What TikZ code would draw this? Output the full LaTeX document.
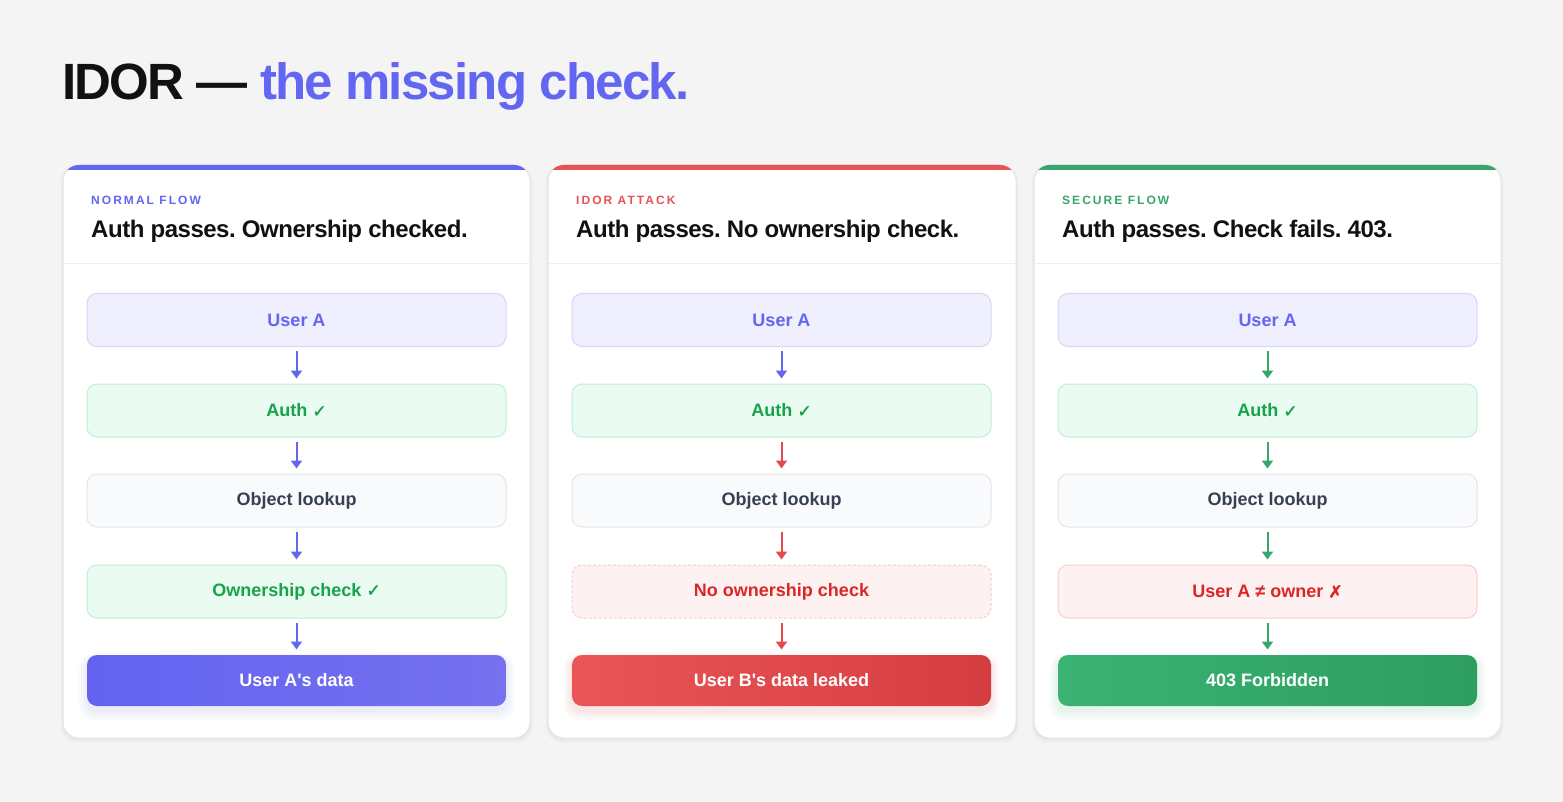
\documentclass[tikz,border=0pt]{standalone}
\usepackage{fontspec}
\setmainfont{Liberation Sans}
\newfontfamily\titlefont[LetterSpace=-3.5]{Liberation Sans}
\newfontfamily\capfont[LetterSpace=17]{Liberation Sans}
\newfontfamily\headfont[LetterSpace=-2]{Liberation Sans}
\newfontfamily\symfont[FakeBold=1.5]{DejaVu Sans}
\usetikzlibrary{arrows.meta}
\frenchspacing
\definecolor{bg}{HTML}{F4F4F4}
\definecolor{ink}{HTML}{111111}
\definecolor{indigo}{HTML}{6366F1}
\definecolor{redc}{HTML}{E5484D}
\definecolor{greenc}{HTML}{34A86A}
\definecolor{redbar}{HTML}{E55353}
\definecolor{greenbar}{HTML}{38A66C}
\definecolor{userfill}{HTML}{EFEFFE}
\definecolor{userdraw}{HTML}{D6D6F8}
\definecolor{okfill}{HTML}{EAFBF2}
\definecolor{okdraw}{HTML}{BFF0D2}
\definecolor{oktext}{HTML}{17A34A}
\definecolor{grayfill}{HTML}{F9FAFB}
\definecolor{graydraw}{HTML}{E3E5E8}
\definecolor{graytext}{HTML}{374151}
\definecolor{failfill}{HTML}{FEF1F2}
\definecolor{faildraw}{HTML}{FCCACC}
\definecolor{failtext}{HTML}{DC2626}
\definecolor{carddraw}{HTML}{E6E6E6}
\definecolor{divcol}{HTML}{EFEFEF}
\definecolor{indigoA}{HTML}{6363F0}
\definecolor{indigoB}{HTML}{7571EF}
\definecolor{redA}{HTML}{EA5557}
\definecolor{redB}{HTML}{D53E41}
\definecolor{greenA}{HTML}{3AB274}
\definecolor{greenB}{HTML}{2E9E5F}
\tikzset{
  boxbase/.style={rounded corners=10pt, minimum width=419pt, minimum height=53pt, line width=1pt,
    font=\fontsize{18}{20}\selectfont\bfseries, inner sep=0pt},
  userbox/.style={boxbase, fill=userfill, draw=userdraw, text=indigo},
  authbox/.style={boxbase, fill=okfill, draw=okdraw, text=oktext},
  lookbox/.style={boxbase, fill=grayfill, draw=graydraw, text=graytext},
  failbox/.style={boxbase, fill=failfill, draw=faildraw, text=failtext},
  dashbox/.style={failbox, dash pattern=on 3pt off 2pt},
  resultbox/.style={boxbase, minimum height=51pt, draw=none, text=white},
  flow/.style={line width=2pt, draw=#1, -{Triangle[width=11pt,length=8pt]}, shorten <=4pt, shorten >=5pt},
  caplabel/.style={anchor=base west, inner sep=0pt, font=\fontsize{12}{14}\selectfont\capfont\bfseries},
  heading/.style={anchor=base west, inner sep=0pt, text=ink, font=\fontsize{24}{28}\selectfont\headfont\bfseries},
}
\newcommand\ok{{\symfont\fontsize{17}{18}\selectfont ✓}}
\newcommand\nok{{\symfont\fontsize{17}{18}\selectfont ✗}}
\newcommand\cardbg[6]{%
  \foreach \k in {1,...,5}{\fill[black,opacity=0.012,rounded corners=16pt] (#1-\k/2,165-\k/3+2) rectangle (#2+\k/2,738+\k);}
  \fill[white,rounded corners=16pt] (#1,165) rectangle (#2,738);
  \draw[carddraw,line width=1pt,rounded corners=16pt] (#1,165) rectangle (#2,738);
  \begin{scope}
    \clip[rounded corners=16pt] (#1,165) rectangle (#2,738);
    \fill[#3] (#1,164) rectangle (#2,170);
  \end{scope}
  \draw[divcol,line width=1pt] (#1,264) -- (#2,264);
  \node[caplabel,text=#3] (#6lab) at (#1+28,205) {#4};
  \node[heading] (#6head) at (#1+28,238) {#5};
}
\newcommand\glow[3]{% left x, right x, colour
  \foreach \k in {1,...,6}{\fill[#3,opacity=0.02,rounded corners=10pt+\k pt] (#1-\k*1.4,655-\k*1.0+4) rectangle (#2+\k*1.4,706+\k*1.8+4);}
}
\begin{document}
\begin{tikzpicture}[x=1pt,y=-1pt]
\useasboundingbox (0,0) rectangle (1563,802);
\fill[bg] (0,0) rectangle (1563,802);

\node[anchor=base west, inner sep=0pt, text=ink, font=\fontsize{51}{60}\selectfont\titlefont\bfseries] (title) at (62,100) {IDOR — \textcolor{indigo}{the missing check.}};

% ---------- card 1
\cardbg{63}{530}{indigo}{NORMAL FLOW}{Auth passes. Ownership checked.}{a}
\node[userbox] (au) at (296.5,320) {User A};
\node[authbox] (aa) at (296.5,410.5) {Auth \ok};
\node[lookbox] (ao) at (296.5,500.5) {Object lookup};
\node[authbox] (ak) at (296.5,591.5) {Ownership check \ok};
\glow{87}{506}{indigo}
\node[resultbox, left color=indigoA, right color=indigoB] (ar) at (296.5,680.5) {User A\textquotesingle s data};
\draw[flow=indigo] (au) -- (aa);
\draw[flow=indigo] (aa) -- (ao);
\draw[flow=indigo] (ao) -- (ak);
\draw[flow=indigo] (ak) -- (ar);

% ---------- card 2
\cardbg{548}{1016}{redbar}{IDOR ATTACK}{Auth passes. No ownership check.}{b}
\node[userbox] (bu) at (781.5,320) {User A};
\node[authbox] (ba) at (781.5,410.5) {Auth \ok};
\node[lookbox] (bo) at (781.5,500.5) {Object lookup};
\node[dashbox] (bk) at (781.5,591.5) {No ownership check};
\glow{572}{991}{redc}
\node[resultbox, left color=redA, right color=redB] (br) at (781.5,680.5) {User B\textquotesingle s data leaked};
\draw[flow=indigo] (bu) -- (ba);
\draw[flow=redc] (ba) -- (bo);
\draw[flow=redc] (bo) -- (bk);
\draw[flow=redc] (bk) -- (br);

% ---------- card 3
\cardbg{1034}{1501}{greenbar}{SECURE FLOW}{Auth passes. Check fails. 403.}{c}
\node[userbox] (cu) at (1267.5,320) {User A};
\node[authbox] (ca) at (1267.5,410.5) {Auth \ok};
\node[lookbox] (co) at (1267.5,500.5) {Object lookup};
\node[failbox] (ck) at (1267.5,591.5) {User A ≠ owner \nok};
\glow{1058}{1477}{greenc}
\node[resultbox, left color=greenA, right color=greenB] (cr) at (1267.5,680.5) {403 Forbidden};
\draw[flow=greenc] (cu) -- (ca);
\draw[flow=greenc] (ca) -- (co);
\draw[flow=greenc] (co) -- (ck);
\draw[flow=greenc] (ck) -- (cr);
\end{tikzpicture}
\end{document}
